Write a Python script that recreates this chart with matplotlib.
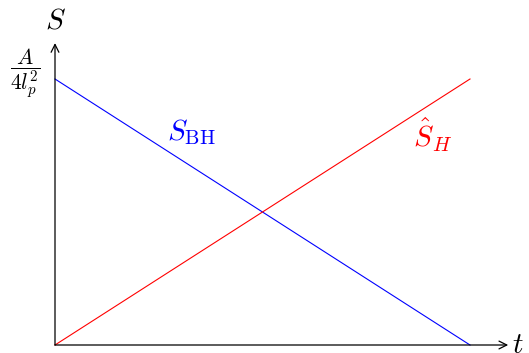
import matplotlib

matplotlib.use("Agg")
import matplotlib.pyplot as plt

plt.rcParams["mathtext.fontset"] = "cm"

# entropy vs time: Bekenstein-Hawking falls, Hawking radiation rises
t_vals = [0.0, 1.0]
s_bh = [1.0, 0.0]
s_h = [0.0, 1.0]

W, H = 529, 353
fig = plt.figure(figsize=(W / 100, H / 100), dpi=100)
x0, y0, x1, y1 = 55, 345, 470, 79
ax = fig.add_axes([x0 / W, (H - y0) / H, (x1 - x0) / W, (y0 - y1) / H])
ax.set_xlim(0, 1)
ax.set_ylim(0, 1)
for side in ax.spines.values():
    side.set_visible(False)
ax.set_xticks([])
ax.set_yticks([])

ax.plot(t_vals, s_bh, color="blue", lw=0.8, clip_on=False)
ax.plot(t_vals, s_h, color="red", lw=0.8, clip_on=False)

# axes with open arrow heads
arrow = dict(arrowstyle="->", lw=0.9, color="black", shrinkA=0, shrinkB=0,
             mutation_scale=14)
ax.annotate("", xy=(1.092, 0), xytext=(0, 0), arrowprops=arrow,
            annotation_clip=False)
ax.annotate("", xy=(0, 1.135), xytext=(0, 0), arrowprops=arrow,
            annotation_clip=False)

ax.text(1.10, 0, r"$t$", fontsize=21, ha="left", va="center", clip_on=False)
ax.text(0, 1.22, r"$S$", fontsize=21, ha="center", va="center", clip_on=False)
ax.text(-0.072, 1.02, r"$\dfrac{A}{4l_p^2}$", fontsize=15.5, ha="center",
        va="center", clip_on=False)

ax.text(0.328, 0.80, r"$S_{\mathrm{BH}}$", color="blue", fontsize=21,
        ha="center", va="center")
ax.text(0.911, 0.79, r"$\hat{S}_H$", color="red", fontsize=21,
        ha="center", va="center")

fig.savefig("out.png", dpi=100)
